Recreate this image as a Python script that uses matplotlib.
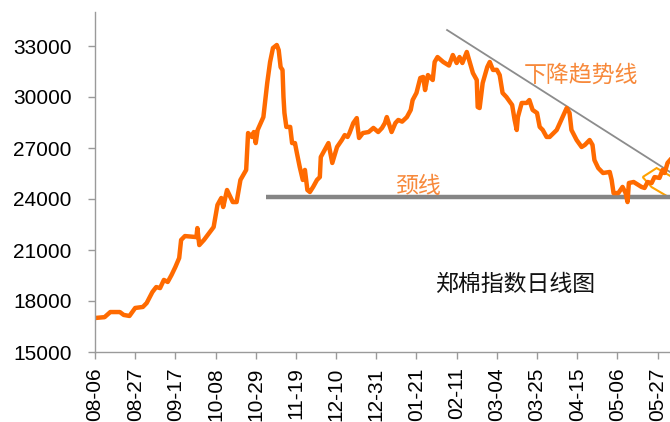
import matplotlib
matplotlib.use("Agg")
import matplotlib.pyplot as plt
from matplotlib.patches import Polygon

# days since 2010-08-06 and index values
days = [0, 5, 8, 13, 15, 18, 21, 25, 27, 30, 32, 34, 36, 38, 40, 42, 44, 45,
        47, 53, 53.5, 54.5, 57, 62, 64, 66, 67, 69, 72, 74, 76, 79, 80, 82, 83,
        84, 85, 88, 89, 90, 91.5, 93, 95, 96, 97, 98, 98.5, 99, 100, 102, 103,
        104.5, 105.5, 107, 108.6, 109.7, 111, 112.3, 114, 116, 117.5, 118, 120,
        122, 124, 126.5, 129, 130.5, 132, 133, 135, 136.8, 137.3, 138, 140, 143,
        145.5, 148, 150, 151.5, 152.5, 153.5, 155, 157, 158.5, 160.5, 163, 165,
        166, 168, 170, 171.5, 172.5, 174, 176.5, 177.5, 179, 182, 185, 187, 189,
        190.5, 192, 194.3, 196, 197.5, 199.5, 200, 201, 202.6, 205, 206.3, 208,
        210, 211.5, 213, 215, 218, 219.3, 220.4, 221, 223, 225.6, 227, 228.7,
        231, 232.4, 234, 236, 237.6, 241.3, 244.4, 246.5, 248, 249, 251.7, 254.3,
        256, 258.5, 260, 261, 263, 265.5, 269, 270, 271, 273.5, 275.7, 277.3,
        278.3, 279, 281.5, 284, 285.6, 287.2, 288.8, 290.9, 292.4, 295, 296.6,
        297.7, 299.2, 300.5]
index = [17000, 17050, 17350, 17350, 17180, 17120, 17590, 17650, 17880, 18530,
         18820, 18760, 19240, 19120, 19530, 20000, 20530, 21590, 21820, 21760,
         22290, 21290, 21600, 22350, 23650, 24060, 23530, 24530, 23820, 23820,
         25120, 25710, 27880, 27650, 27940, 27290, 28060, 28820, 29820, 30820,
         32060, 32880, 33060, 32760, 31760, 31590, 30000, 29060, 28240, 28240,
         27290, 27290, 26710, 25880, 25120, 25710, 24530, 24410, 24710, 25120,
         25290, 26470, 26880, 27290, 26120, 27060, 27470, 27760, 27650, 27880,
         28470, 28760, 28200, 27590, 27880, 27940, 28180, 27940, 28180, 28470,
         28820, 28470, 27940, 28470, 28650, 28550, 28820, 29240, 29820, 30240,
         31120, 31180, 30410, 31290, 31000, 32060, 32350, 32060, 31850, 32470,
         32000, 32350, 32000, 32650, 32000, 31410, 31000, 29410, 29350, 30820,
         31760, 32060, 31590, 31600, 31290, 30240, 30000, 29530, 28650, 28060,
         28820, 29650, 29650, 29820, 29240, 29060, 28240, 28060, 27650, 27650,
         28060, 28820, 29350, 29060, 28060, 27470, 27060, 27180, 27470, 27180,
         26290, 25820, 25530, 25590, 25120, 24350, 24350, 24710, 24350, 23820,
         24940, 25000, 24820, 24710, 24650, 25000, 24940, 25290, 25240, 25710,
         25530, 26120, 26290]

tick_days = [0, 21, 42, 63, 84, 105, 126, 147, 168, 189, 210, 231, 252, 273, 294]
tick_labels = ["08-06", "08-27", "09-17", "10-08", "10-29", "11-19", "12-10",
               "12-31", "01-21", "02-11", "03-04", "03-25", "04-15", "05-06",
               "05-27"]
y_ticks = [15000, 18000, 21000, 24000, 27000, 30000, 33000]

neck_days = [89.3, 300.5]
neck_value = [24100, 24100]
trend_days = [184, 300.5]
trend_value = [33940, 25590]

cjk = ["Noto Sans CJK SC", "DejaVu Sans"]
plt.rcParams["font.family"] = ["Liberation Sans", "DejaVu Sans"]

fig = plt.figure(figsize=(6.7, 4.22), dpi=100)
ax = fig.add_axes([95 / 670, 70 / 422, 1 - 95 / 670, 340 / 422])

ax.plot(neck_days, neck_value, color="#858585", lw=3.2, solid_capstyle="butt")
ax.plot(trend_days, trend_value, color="#8c8c8c", lw=1.3)
ax.plot(days, index, color="#ff6a00", lw=3.2, solid_joinstyle="round")

arrow = Polygon([(286.2, 25290), (293.5, 25820), (303, 25200), (303, 23900),
                 (290.9, 24700)], closed=True, fill=False,
                edgecolor="#ffa200", lw=1.5)
ax.add_patch(arrow)

ax.text(323 / 1.915, 24720, "颈线", family=cjk, fontsize=16.5,
        color="#f7893b", ha="center", va="center")
ax.text(486 / 1.915, 31270, "下降趋势线", family=cjk, fontsize=16.5,
        color="#f7893b", ha="center", va="center")
ax.text(420 / 1.915, 19000, "郑棉指数日线图", family=cjk, fontsize=16.5,
        color="#111111", ha="center", va="center")

ax.set_xlim(0, 300.5)
ax.set_ylim(15000, 35000)
ax.set_xticks(tick_days)
ax.set_xticklabels(tick_labels, rotation=90, va="top")
ax.set_yticks(y_ticks)

for s in ["top", "right"]:
    ax.spines[s].set_visible(False)
for s in ["left", "bottom"]:
    ax.spines[s].set_color("#9a9a9a")
    ax.spines[s].set_linewidth(1.0)
ax.tick_params(axis="both", colors="#9a9a9a", labelcolor="black",
               labelsize=15, length=5, width=1.0)
ax.tick_params(axis="y", pad=12)
ax.tick_params(axis="x", pad=6)

fig.savefig("out.png", dpi=100)
